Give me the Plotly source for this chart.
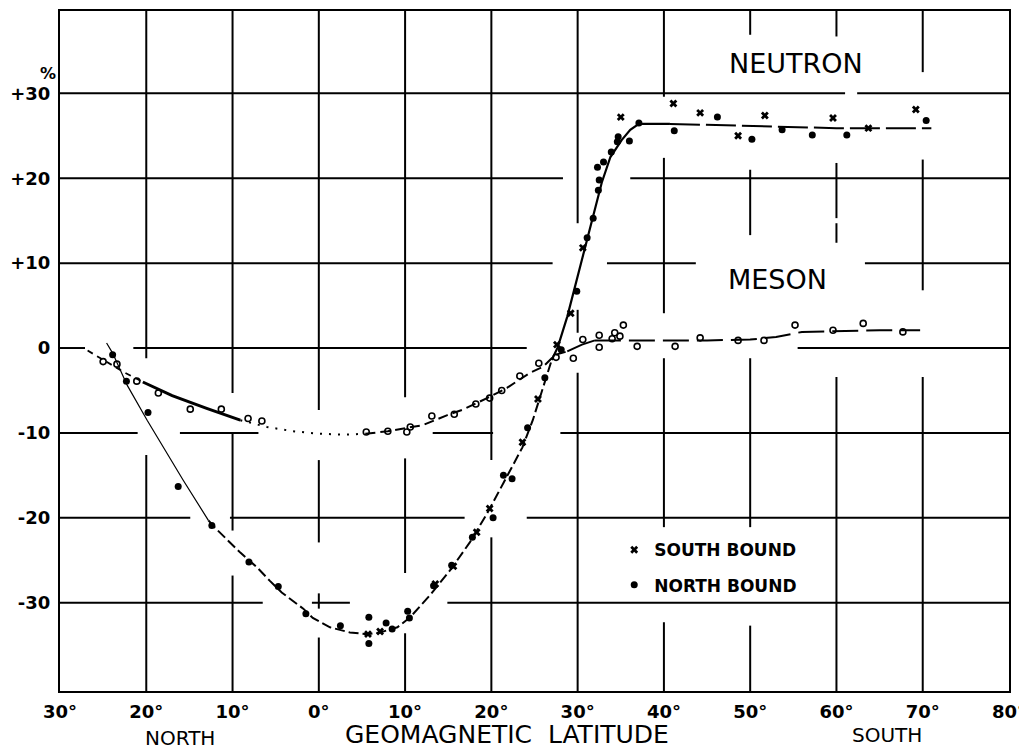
import plotly.graph_objects as go

# ---------------- data (signed latitude: negative = north, positive = south) ----------------
lat_ticks = [-30, -20, -10, 0, 10, 20, 30, 40, 50, 60, 70, 80]
lat_labels = ["30°", "20°", "10°", "0°", "10°", "20°", "30°", "40°", "50°", "60°", "70°", "80°"]
pct_ticks = [-30, -20, -10, 0, 10, 20, 30]
pct_labels = ["-30", "-20", "-10", "0", "+10", "+20", "+30"]

# neutron, south bound (x)
south_x = [5.7, 7.1, 13.5, 15.6, 18.3, 19.8, 23.6, 25.4, 27.6, 29.2, 30.6, 35.0,
           41.1, 44.2, 48.6, 51.7, 59.6, 63.7, 69.2]
south_y = [-33.7, -33.4, -27.8, -25.7, -21.7, -18.9, -11.1, -6.0, 0.4, 4.1, 11.8, 27.2,
           28.8, 27.7, 25.0, 27.4, 27.1, 25.9, 28.1]

# neutron, north bound (dots)
north_x = [-23.9, -22.3, -19.8, -16.3, -12.4, -8.1, -4.7, -1.5, 2.5, 5.8, 5.8, 7.8, 8.5,
           10.3, 10.5, 13.3, 15.4, 17.8, 20.2, 21.4, 22.4, 24.2, 26.2, 28.1, 29.9, 31.1,
           31.8, 32.4, 32.5, 32.3, 33.0, 33.9, 34.6, 34.7, 36.0, 37.1, 41.2, 46.2, 50.2,
           53.7, 57.2, 61.2, 70.4]
north_y = [-0.8, -3.9, -7.6, -16.3, -20.9, -25.2, -28.1, -31.3, -32.7, -31.7, -34.8, -32.4,
           -33.1, -31.0, -31.8, -28.0, -25.6, -22.3, -20.0, -15.0, -15.4, -9.4, -3.5, -0.2,
           6.7, 13.0, 15.3, 18.6, 19.8, 21.3, 21.9, 23.1, 24.3, 24.9, 24.4, 26.5, 25.6,
           27.2, 24.6, 25.7, 25.1, 25.1, 26.8]

# meson (open circles)
meson_x = [-25.0, -23.4, -21.1, -18.6, -14.9, -11.3, -8.2, -6.6, 5.5, 8.0, 10.2, 10.6,
           13.1, 15.7, 18.2, 19.8, 21.2, 23.3, 25.5, 27.5, 29.5, 30.6, 32.5, 32.5, 34.0,
           34.3, 34.9, 35.3, 36.9, 41.3, 44.2, 48.6, 51.6, 55.2, 59.6, 63.1, 67.7]
meson_y = [-1.6, -1.9, -3.9, -5.3, -7.2, -7.2, -8.3, -8.6, -9.9, -9.8, -9.9, -9.3,
           -8.0, -7.8, -6.6, -5.9, -5.0, -3.3, -1.8, -1.1, -1.2, 1.0, 1.5, 0.1, 1.1,
           1.8, 1.4, 2.7, 0.2, 0.2, 1.2, 0.9, 0.9, 2.7, 2.1, 2.9, 1.9]

# hand-drawn neutron curve
neut_fit_x = [-24.6, -23.9, -22.2, -19.9, -15.7, -12.8, -12.0, -9.1, -7.2, -5.7, -4.3, -1.8,
              -0.7, 1.3, 3.6, 5.6, 7.1, 9.1, 10.6, 12.9, 15.2, 17.5, 19.5, 21.4, 23.6, 24.8,
              26.0, 27.0, 27.7, 28.8, 29.5, 30.3, 31.1, 32.0, 32.8, 33.8, 35.1, 36.1, 37.1,
              40.7, 50.0, 60.0, 71.0]
neut_fit_y = [0.6, -0.6, -4.4, -8.5, -15.6, -20.3, -21.2, -24.1, -25.8, -27.4, -28.8, -30.7,
              -31.8, -32.9, -33.5, -33.7, -33.5, -32.9, -31.7, -29.1, -26.2, -22.9, -19.5,
              -15.9, -11.7, -8.5, -4.6, -1.4, 0.1, 3.7, 6.5, 9.6, 12.7, 16.3, 19.5, 22.5,
              24.5, 25.7, 26.4, 26.4, 26.2, 25.9, 25.9]

# hand-drawn meson curve
mes_fit_x = [-26.8, -24.5, -22.5, -20.4, -17.0, -13.0, -9.1, -6.0, -3.0, 0.0, 3.0, 5.4, 8.0,
             10.2, 12.0, 14.9, 16.6, 19.5, 21.8, 24.5, 26.0, 27.4, 28.8, 30.5, 32.0, 35.0,
             40.0, 45.0, 50.0, 53.0, 56.0, 60.0, 65.0, 69.7]
mes_fit_y = [-0.3, -1.7, -2.9, -4.0, -5.6, -7.1, -8.5, -9.3, -9.8, -10.1, -10.2, -10.1, -9.8,
             -9.4, -9.1, -7.9, -7.3, -5.9, -4.7, -2.9, -2.2, -0.8, -0.4, 0.4, 0.9, 0.9,
             0.9, 0.9, 1.0, 1.3, 1.9, 2.0, 2.1, 2.1]

# ---------------- styling helpers ----------------
FONT = "DejaVu Sans"
fig = go.Figure()

def seg(xs, ys, i0, i1, width, dash):
    fig.add_trace(go.Scatter(x=xs[i0:i1 + 1], y=ys[i0:i1 + 1], mode="lines",
                             line=dict(color="black", width=width, dash=dash),
                             showlegend=False, hoverinfo="skip"))

# neutron curve segments (index ranges into the fit arrays)
seg(neut_fit_x, neut_fit_y, 0, 5, 1.2, "solid")
seg(neut_fit_x, neut_fit_y, 5, 27, 2, "10px,4px")
seg(neut_fit_x, neut_fit_y, 27, 39, 2.2, "solid")
seg(neut_fit_x, neut_fit_y, 39, len(neut_fit_x) - 1, 2, "30px,6px")

# meson curve segments
seg(mes_fit_x, mes_fit_y, 0, 3, 1.8, "6px,5px")
seg(mes_fit_x, mes_fit_y, 3, 6, 3, "solid")
seg(mes_fit_x, mes_fit_y, 6, 11, 2, "2px,7px")
seg(mes_fit_x, mes_fit_y, 11, 22, 2, "10px,5px")
seg(mes_fit_x, mes_fit_y, 22, 24, 2, "solid")
seg(mes_fit_x, mes_fit_y, 24, len(mes_fit_x) - 1, 2, "26px,8px")

fig.add_trace(go.Scatter(x=meson_x, y=meson_y, mode="markers", showlegend=False,
                         marker=dict(symbol="circle-open", size=6, color="black",
                                     line=dict(width=1.6, color="black"))))
fig.add_trace(go.Scatter(x=south_x, y=south_y, mode="markers", name="SOUTH BOUND",
                         legendgroup="s", legendrank=1,
                         marker=dict(symbol="x", size=7, color="black")))
fig.add_trace(go.Scatter(x=north_x, y=north_y, mode="markers", name="NORTH BOUND",
                         legendgroup="n", legendrank=2,
                         marker=dict(symbol="circle", size=7, color="black")))

# ---------------- broken hand-drawn grid (style only) ----------------
YT, YB = 39.7, -40.4
vgrid = {
    -20: [(YT, -1.2), (-12.6, YB)],
    -10: [(YT, -5.3), (-9.9, -21.5), (-26.8, YB)],
    0: [(YT, -7.3), (-13.2, -22.9), (-28.9, -30.7), (-34.1, YB)],
    10: [(YT, -5.8), (-13.0, -26.5), (-33.6, YB)],
    20: [(YT, -13.2), (-22.3, YB)],
    30: [(YT, 14.7), (4.5, 1.8), (-2.9, YB)],
    40: [(YT, 29.6), (22.4, 4.1), (-1.2, -21.1), (-32.3, YB)],
    50: [(YT, 36.9), (21.0, 13.3), (-1.2, -21.1), (-32.7, YB)],
    60: [(YT, 36.7), (21.8, 15.3), (14.7, 12.4), (-3.4, YB)],
    70: [(YT, 32.5), (22.2, 6.8), (-3.4, YB)],
}
hgrid = {
    30: [(-30, 61.0), (62.4, 80)],
    20: [(-30, 28.3), (36.1, 80)],
    10: [(-30, 27.1), (33.4, 43.7), (63.3, 80)],
    0: [(-30, -27.1), (-21.5, 24.1), (55.5, 80)],
    -10: [(-30, -21.0), (-16.1, -7.0), (13.2, 20.2), (28.0, 80)],
    -20: [(-30, -14.9), (-10.3, 16.9), (24.1, 80)],
    -30: [(-30, -6.5), (-0.8, 3.6), (14.9, 80)],
}
shapes = []
for xv, parts in vgrid.items():
    for a, b in parts:
        shapes.append(dict(type="line", xref="x", yref="y", x0=xv, x1=xv, y0=a, y1=b,
                           line=dict(color="black", width=2), layer="below"))
for yv, parts in hgrid.items():
    for a, b in parts:
        shapes.append(dict(type="line", xref="x", yref="y", x0=a, x1=b, y0=yv, y1=yv,
                           line=dict(color="black", width=2), layer="below"))

annotations = [
    dict(text="NEUTRON", x=55.3, y=33.5, xref="x", yref="y", showarrow=False,
         xanchor="center", yanchor="middle",
         font=dict(family=FONT, size=27, color="black")),
    dict(text="MESON", x=53.2, y=8.1, xref="x", yref="y", showarrow=False,
         xanchor="center", yanchor="middle",
         font=dict(family=FONT, size=27, color="black")),
    dict(text="%", x=-0.0126, y=0.9074, xref="paper", yref="paper", showarrow=False,
         xanchor="center", yanchor="middle",
         font=dict(family=FONT, size=16, color="black", weight="bold")),
    dict(text="NORTH", x=-16.1, y=-0.069, xref="x", yref="paper", showarrow=False,
         xanchor="center", yanchor="middle",
         font=dict(family=FONT, size=20, color="black")),
    dict(text="GEOMAGNETIC  LATITUDE", x=21.8, y=-0.0647, xref="x", yref="paper",
         xanchor="center", yanchor="middle",
         showarrow=False, font=dict(family=FONT, size=25, color="black")),
    dict(text="SOUTH", x=65.9, y=-0.065, xref="x", yref="paper", showarrow=False,
         xanchor="center", yanchor="middle",
         font=dict(family=FONT, size=20, color="black")),
]

# the page body adds an 8px offset, so the figure is laid out 8px up/left of the picture
fig.update_layout(
    width=1019, height=741,
    margin=dict(l=52, r=18, t=3, b=58, autoexpand=False),
    paper_bgcolor="white", plot_bgcolor="white",
    shapes=shapes, annotations=annotations,
    showlegend=True,
    legend=dict(x=0.584, y=0.2335, xanchor="left", yanchor="top",
                bgcolor="rgba(0,0,0,0)", tracegroupgap=10, itemsizing="trace",
                font=dict(family=FONT, size=17, color="black", weight="bold")),
    xaxis=dict(range=[-30, 80], tickvals=lat_ticks, ticktext=lat_labels,
               showgrid=False, zeroline=False, showline=True, mirror=True,
               linecolor="black", linewidth=2, ticks="", ticklabelstandoff=3,
               automargin=False,
               tickfont=dict(family=FONT, size=18, color="black", weight="bold"),
               fixedrange=True),
    yaxis=dict(range=[YB, YT], tickvals=pct_ticks, ticktext=pct_labels,
               showgrid=False, zeroline=False, showline=True, mirror=True,
               linecolor="black", linewidth=2, ticks="", ticklabelstandoff=4,
               automargin=False,
               tickfont=dict(family=FONT, size=18, color="black", weight="bold"),
               fixedrange=True),
)

fig.write_html("out.html")
